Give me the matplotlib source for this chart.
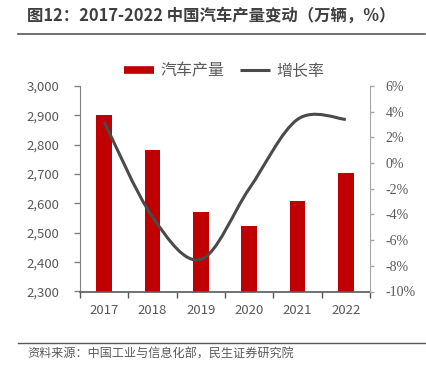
import matplotlib
matplotlib.use("Agg")
import matplotlib.pyplot as plt
from matplotlib.path import Path
from matplotlib.patches import PathPatch
from matplotlib.lines import Line2D
from matplotlib.ticker import FuncFormatter, FixedLocator
import numpy as np

plt.rcParams['font.family'] = ['Noto Sans CJK SC', 'DejaVu Sans']

years = ['2017', '2018', '2019', '2020', '2021', '2022']
production = [2901.5, 2780.9, 2572.1, 2522.5, 2608.2, 2702.1]
growth = [3.2, -4.2, -7.5, -2.0, 3.4, 3.4]

title = '图12：2017-2022 中国汽车产量变动（万辆，%）'
source = '资料来源：中国工业与信息化部，民生证券研究院'
bar_label = '汽车产量'
line_label = '增长率'

RED = '#C00000'
LINE = '#4a4a4a'
TXT = '#595959'

W, H = 426, 379
fig = plt.figure(figsize=(W / 100, H / 100), dpi=100)
ax = fig.add_axes([80 / W, 1 - 291.5 / H, 290 / W, 205.5 / H])
ax2 = ax.twinx()

x = np.arange(len(years))
ax.bar(x, production, width=0.32, color=RED, zorder=2)
ax.set_ylim(2300, 3000)
ax.set_xlim(-0.5, len(years) - 0.5)
ax.set_yticks(np.arange(2300, 3001, 100))
ax.yaxis.set_major_formatter(FuncFormatter(lambda v, p: f'{int(v):,}'))

ax.xaxis.set_major_locator(FixedLocator(np.arange(-0.5, len(years), 1.0)))
ax.xaxis.set_minor_locator(FixedLocator(x))
ax.set_xticklabels([], minor=False)
ax.set_xticklabels(years, minor=True)
ax.tick_params(axis='x', which='major', length=4, width=1, color='#595959', direction='out')
ax.tick_params(axis='x', which='minor', length=0, pad=9, labelsize=9.5, labelcolor=TXT)
ax.tick_params(axis='y', length=4, width=1, color='#808080', pad=11, labelsize=9.5, labelcolor=TXT)

for s in ['top', 'right']:
    ax.spines[s].set_visible(False)
ax.spines['left'].set_color('#808080')
ax.spines['bottom'].set_color('#595959')
ax.spines['bottom'].set_linewidth(1.2)

# smoothed growth line (cubic Bezier through data points)
pts = list(zip(x.astype(float), growth))
n = len(pts)
verts = [pts[0]]
codes = [Path.MOVETO]
for i in range(n - 1):
    p_prev = pts[i - 1] if i > 0 else pts[i]
    p0 = pts[i]
    p1 = pts[i + 1]
    p_next = pts[i + 2] if i + 2 < n else pts[i + 1]
    c1 = (p0[0] + (p1[0] - p_prev[0]) / 6, p0[1] + (p1[1] - p_prev[1]) / 6)
    c2 = (p1[0] - (p_next[0] - p0[0]) / 6, p1[1] - (p_next[1] - p0[1]) / 6)
    verts += [c1, c2, p1]
    codes += [Path.CURVE4] * 3
patch = PathPatch(Path(verts, codes), facecolor='none', edgecolor=LINE, lw=2.2,
                  transform=ax2.transData, zorder=3, capstyle='butt')
ax2.add_patch(patch)
ax2.set_ylim(-10, 6)
ax2.set_yticks(np.arange(-10, 7, 2))
ax2.yaxis.set_major_formatter(FuncFormatter(lambda v, p: f'{int(v)}%'))
ax2.tick_params(axis='y', length=3, width=1, color='#a6a6a6', pad=8, labelcolor=TXT)
for lab in ax2.get_yticklabels():
    lab.set_fontfamily('Liberation Serif')
    lab.set_fontsize(10)
for s in ['top', 'left', 'bottom']:
    ax2.spines[s].set_visible(False)
ax2.spines['right'].set_color('#a6a6a6')

handles = [Line2D([], [], color=RED, lw=5.5, solid_capstyle='butt'),
           Line2D([], [], color=LINE, lw=2.2, solid_capstyle='butt')]
fig.legend(handles, [bar_label, line_label], loc='center', ncol=2, frameon=False,
           bbox_to_anchor=(224 / W, 1 - 71 / H), fontsize=11.5, handlelength=1.9,
           handletextpad=0.35, columnspacing=1.0, labelcolor=TXT)

fig.text(27 / W, 1 - 16 / H, title, fontsize=11.8, fontweight='bold', color='#3f3f3f',
         va='center', ha='left')
fig.add_artist(Line2D([18 / W, 425 / W], [1 - 34 / H] * 2, transform=fig.transFigure,
                      color='#595959', lw=1.2))
fig.add_artist(Line2D([18 / W, 425 / W], [1 - 342.5 / H] * 2, transform=fig.transFigure,
                      color='#595959', lw=1.0))
fig.text(27 / W, 1 - 354 / H, source, fontsize=8.7, color=TXT, va='center', ha='left')

fig.savefig('out.png', dpi=100)
